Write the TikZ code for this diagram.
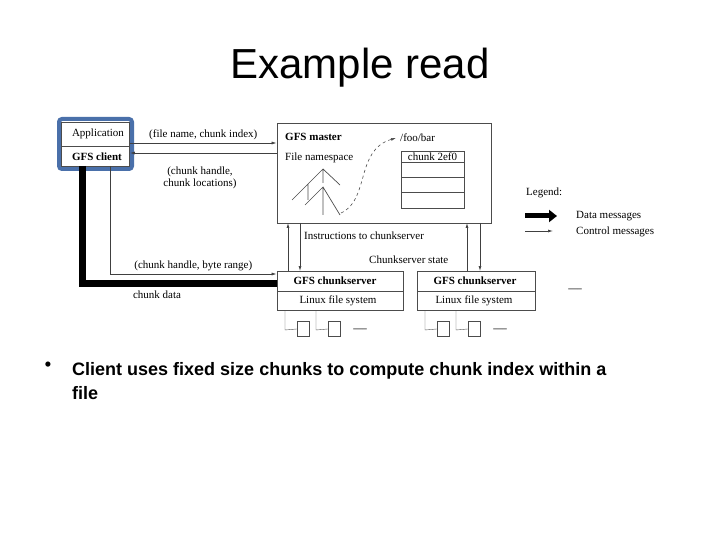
\documentclass[tikz,border=0pt]{standalone}
\usepackage{fontspec}
\setmainfont{Liberation Serif}
\newfontfamily\arialf{Liberation Sans}
\usetikzlibrary{arrows.meta,shapes.geometric}
\definecolor{frameblue}{RGB}{74,112,170}
\begin{document}
\begin{tikzpicture}[x=1pt,y=-1pt,
  lbl/.style={font=\fontsize{11}{12}\selectfont,inner sep=0pt},
  blbl/.style={font=\fontsize{11}{12}\selectfont\bfseries,inner sep=0pt},
  box/.style={draw=black!70,line width=0.8pt},
  ctrl/.style={draw=black!75,line width=0.7pt,-{Latex[length=5pt,width=3pt]}},
  disk/.style={cylinder,shape border rotate=90,draw=black!70,aspect=0.4,minimum width=12pt,minimum height=15pt,inner sep=0pt}]
\useasboundingbox (0,0) rectangle (720,540);
\node[font=\arialf\fontsize{42}{46}\selectfont] (title) at (360,68) {Example read};
% client
\draw[frameblue,line width=4pt,rounded corners=3pt] (59,119) rectangle (132,169);
\node[box,fill=white,minimum width=68pt,minimum height=44pt,inner sep=0pt] (client) at (95.5,144) {};
\draw[black!70] (61.5,146) -- (129.5,146);
\node[lbl] (app) at (98,134) {Application};
\node[blbl] (gfsc) at (97,157) {GFS client};
% master
\node[box,minimum width=214pt,minimum height=100pt,inner sep=0pt] (master) at (384,173) {};
\node[blbl,anchor=west] (mt) at (285,137) {GFS master};
\node[lbl,anchor=west] (fns) at (285,158) {File namespace};
\node[lbl,anchor=west] (foo) at (400,138) {/foo/bar};
\draw[box] (401,151) rectangle (464,208);
\draw[black!70] (401,162)--(464,162) (401,177)--(464,177) (401,192)--(464,192);
\node[lbl] (c2) at (432.5,156.5) {chunk 2ef0};
% trees
\draw[black!70,line width=0.7pt] (292,200)--(323,169)--(340,185) (323,169)--(323,183)
  (308,184)--(308,200) (305,205)--(323,187)--(340,215) (323,187)--(323,215);
\draw[black!70,line width=0.6pt,dashed,-{Latex[length=5pt,width=3pt]}] (341,213) .. controls (370,200) and (355,150) .. (396,138);
% chunkservers
\node[box,minimum width=126pt,minimum height=39pt,inner sep=0pt] (cs1) at (340,290.5) {};
\draw[black!70] (277,291)--(403,291);
\node[blbl] (cs1t) at (335,281) {GFS chunkserver};
\node[lbl] (cs1f) at (338,301) {Linux file system};
\node[box,minimum width=118pt,minimum height=39pt,inner sep=0pt] (cs2) at (476,290.5) {};
\draw[black!70] (417,291)--(535,291);
\node[blbl] (cs2t) at (475,281) {GFS chunkserver};
\node[lbl] (cs2f) at (474,301) {Linux file system};
% disks
\foreach \dx/\n in {0/a,140/b}{
  \node[disk] (d1\n) at (303+\dx,329) {};
  \node[disk] (d2\n) at (334+\dx,329) {};
  \draw[black!70] (285+\dx,310)--(285+\dx,330)--(d1\n.west);
  \draw[black!70] (316+\dx,310)--(316+\dx,330)--(d2\n.west);
  \node[font=\bfseries\fontsize{9}{9}\selectfont] at (360+\dx,330) {-----};
}
\node[font=\bfseries\fontsize{9}{9}\selectfont] (dots) at (575,290) {-----};
% client-master
\draw[ctrl] (client.east |- 0,143) -- node[lbl,above=3pt]{(file name, chunk index)} (master.west |- 0,143);
\draw[ctrl] (master.west |- 0,153) -- (client.east |- 0,153);
\node[lbl,align=center] (chl) at (200,178) {(chunk handle,\\chunk locations)};
% client-chunkserver
\draw[ctrl] (110,166) -- (110,274) -- node[lbl,above=3pt]{(chunk handle, byte range)} (cs1.west |- 0,274);
\draw[line width=7pt,line join=miter] (82,166) -- (82,283) -- (cs1.west |- 0,283);
\node[lbl] (cd) at (157,295) {chunk data};
% master-chunkservers
\draw[ctrl] (288,271) -- (288,223);
\draw[ctrl] (300,223) -- (300,271);
\draw[ctrl] (467,271) -- (467,223);
\draw[ctrl] (480,223) -- (480,271);
\node[lbl,anchor=west] (ins) at (304,236) {Instructions to chunkserver};
\node[lbl,anchor=west] (css) at (369,260) {Chunkserver state};
% legend
\node[lbl,anchor=west] (leg) at (526,193) {Legend:};
\draw[line width=5pt,-{Triangle[length=8pt,width=12pt]}] (525,216) -- (557,216);
\draw[ctrl] (525,231) -- (553,231);
\node[lbl,anchor=west] (dm) at (576,216) {Data messages};
\node[lbl,anchor=west] (cm) at (576,232) {Control messages};
% bullet
\node[font=\arialf\bfseries\fontsize{18}{24}\selectfont,anchor=north west,align=left,inner sep=0pt] (bt) at (72,362) {Client uses fixed size chunks to compute chunk index within a\\file};
\node[font=\arialf\bfseries\fontsize{18}{24}\selectfont,inner sep=0pt,anchor=north] (bul) at (48,362) {•};
\end{tikzpicture}
\end{document}
